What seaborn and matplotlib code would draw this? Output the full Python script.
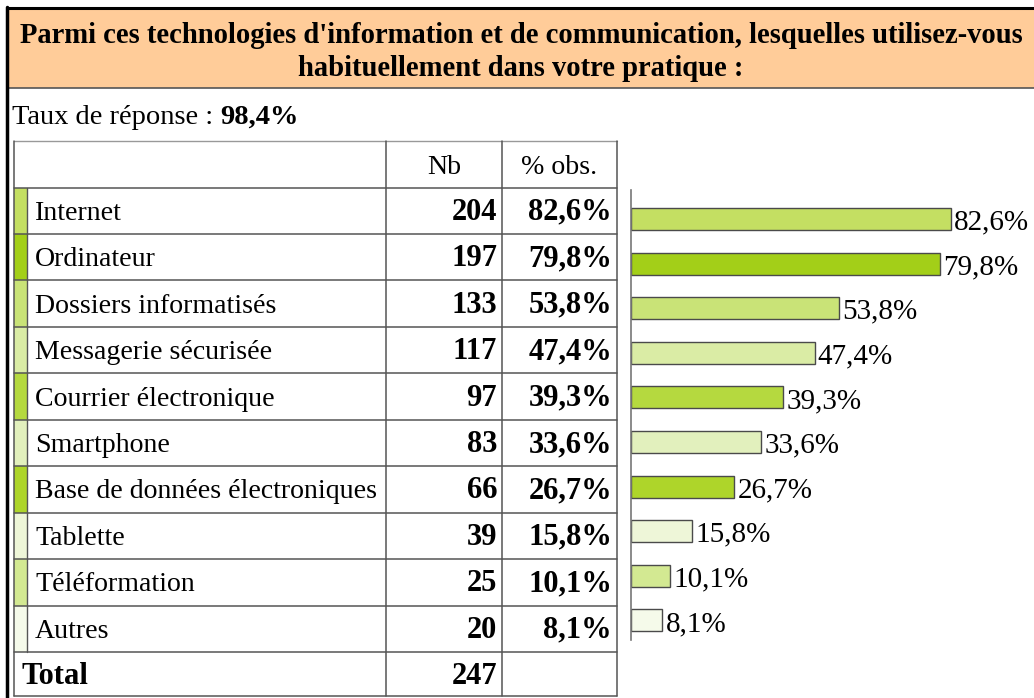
import matplotlib
matplotlib.use("Agg")
import matplotlib.pyplot as plt
import seaborn as sns
from matplotlib.patches import Rectangle

# Données du tableau
categories = ["Internet", "Ordinateur", "Dossiers informatisés", "Messagerie sécurisée",
              "Courrier électronique", "Smartphone", "Base de données électroniques",
              "Tablette", "Téléformation", "Autres"]
effectifs = [204, 197, 133, 117, 97, 83, 66, 39, 25, 20]
pourcentages = [82.6, 79.8, 53.8, 47.4, 39.3, 33.6, 26.7, 15.8, 10.1, 8.1]
couleurs = ["#C4DF62", "#A3CF18", "#C9E377", "#DAECA5", "#B5D93F",
            "#E2F0BD", "#AED52A", "#EEF6D8", "#D3E992", "#F5FAEA"]
total = 247
taux_reponse = "98,4%"
titre = ("Parmi ces technologies d'information et de communication, lesquelles utilisez-vous\n"
         "habituellement dans votre pratique :")


def fr(v):
    return f"{v:.1f}".replace(".", ",") + "%"


sns.set_style("white")
plt.rcParams['font.family'] = ['Liberation Serif', 'DejaVu Serif']
plt.rcParams['text.color'] = 'black'
FS = 20.1     # texte normal
FSB = 22      # nombres en gras
FSL = 21      # étiquettes des barres

W, H = 1034, 698
fig = plt.figure(figsize=(W / 100, H / 100), dpi=100)

# axe "pixels" pour le cadre et le tableau
ax = fig.add_axes([0, 0, 1, 1])
ax.set_xlim(0, W)
ax.set_ylim(H, 0)
ax.axis("off")

# bandeau du titre
ax.add_patch(Rectangle((8, 8), W, 80, facecolor="#FFCC99", edgecolor="none"))
ax.plot([8, W], [87.5, 87.5], color="#555555", lw=1.2)
ax.plot([8, W], [8, 8], color="black", lw=2.2)
ax.plot([7, 7], [7, H], color="black", lw=2.5)
ax.text(521, 52, titre, ha="center", va="center", fontsize=20.6, fontweight="bold",
        linespacing=1.27)

t1 = ax.text(12, 124, "Taux de réponse : ", ha="left", va="baseline", fontsize=20.5)
fig.canvas.draw()
bb = t1.get_window_extent()
x_end = ax.transData.inverted().transform((bb.x1, bb.y0))[0]
ax.text(x_end, 124, taux_reponse, ha="left", va="baseline", fontsize=20.5, fontweight="bold")

# tableau
x0, x1, x2, x3 = 14, 386, 502, 617
y_head = 141
row_h = 46.45
y_rows = [187.5 + i * row_h for i in range(len(categories) + 2)]
lc = "#555555"
dy = 9  # décalage de la ligne de base sous le centre de la cellule

ax.text((x1 + x2) / 2, 165 + dy, "Nb", ha="center", va="baseline", fontsize=FS)
ax.text((x2 + x3) / 2, 165 + dy, "% obs.", ha="center", va="baseline", fontsize=FS)

for i, (cat, n, p, c) in enumerate(zip(categories, effectifs, pourcentages, couleurs)):
    top = y_rows[i]
    ax.add_patch(Rectangle((x0, top), 13, row_h, facecolor=c, edgecolor="none"))
    yb = top + row_h / 2 + dy
    ax.text(35, yb, cat, ha="left", va="baseline", fontsize=FS)
    ax.text(x2 - 5, yb, str(n), ha="right", va="baseline", fontsize=FSB, fontweight="bold")
    ax.text(x3 - 5, yb, fr(p), ha="right", va="baseline", fontsize=FSB, fontweight="bold")
    ax.plot([27, 27], [top, top + row_h], color=lc, lw=1)

top = y_rows[len(categories)]
ax.text(22, top + row_h / 2 + dy, "Total", ha="left", va="baseline", fontsize=FSB,
        fontweight="bold")
ax.text(x2 - 5, top + row_h / 2 + dy, str(total), ha="right", va="baseline", fontsize=FSB,
        fontweight="bold")

# lignes du tableau
y_end = H - 2
ax.plot([x0, x3], [y_head, y_head], color="#999999", lw=1)
for y in y_rows[:-1]:
    ax.plot([x0, x3], [y, y], color=lc, lw=1.1)
ax.plot([x0, x3], [y_end, y_end], color=lc, lw=1.1)
for x in (x0, x1, x2, x3):
    ax.plot([x, x], [y_head, y_end], color=lc, lw=1.1)

# graphique en barres
bx0, bx_scale = 631, 3.874
by_top, by_bot = 190, 640
ax_bar = fig.add_axes([bx0 / W, (H - by_bot) / H, (W - bx0) / W, (by_bot - by_top) / H])
ax_bar.patch.set_alpha(0)
sns.barplot(x=pourcentages, y=categories, hue=categories, palette=couleurs, legend=False,
            orient="h", width=0.49, saturation=1, edgecolor="#4a4a4a", linewidth=1,
            ax=ax_bar)
ax_bar.set_xlim(0, (W - bx0) / bx_scale)
ax_bar.set_ylim(9.44, -0.65)
for i, p in enumerate(pourcentages):
    ax_bar.text(p + 0.8, i + 0.08, fr(p), ha="left", va="center", fontsize=FSL)
ax_bar.set_xticks([])
ax_bar.set_yticks([])
ax_bar.set_xlabel("")
ax_bar.set_ylabel("")
for s in ("top", "right", "bottom"):
    ax_bar.spines[s].set_visible(False)
ax_bar.spines["left"].set_color("#777777")
ax_bar.spines["left"].set_linewidth(1.2)

fig.savefig("out.png", dpi=100)
